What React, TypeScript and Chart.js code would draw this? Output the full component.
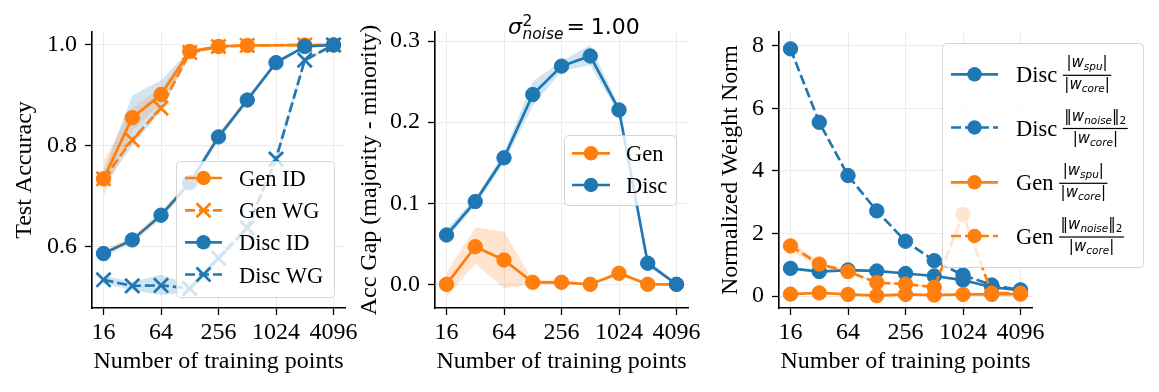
import { useEffect, useRef } from 'react';
import { Chart, registerables } from 'chart.js';

Chart.register(...registerables);

const SERIF = "'Liberation Serif', 'Times New Roman', serif";
const SANS = "'DejaVu Sans', sans-serif";
const BLUE = '#1f77b4';
const ORANGE = '#ff7f0e';
const BLUE_FILL = 'rgba(31,119,180,0.2)';
const ORANGE_FILL = 'rgba(255,127,14,0.2)';
const GRID = '#ebebeb';
const LW = 2.7;

// ---------- data ----------
const trainSizes = [16, 32, 64, 128, 256, 512, 1024, 2048, 4096];
const xTickValues = [16, 64, 256, 1024, 4096];

// Panel 1: Test accuracy
const accYTicks = [0.6, 0.8, 1.0];
const genIdAcc = [0.735, 0.856, 0.902, 0.987, 0.997, 0.999, null, 1.0, 1.0];
const genWgAcc = [0.735, 0.812, 0.875, 0.985, 0.997, 0.999, null, 1.0, 1.0];
const discIdAcc = [0.587, 0.614, 0.663, 0.727, 0.818, 0.891, 0.965, 0.997, 1.0];
const discWgAcc = [0.535, 0.523, 0.524, 0.518, 0.578, 0.638, 0.774, 0.97, 1.0];
const genIdAccLo = [0.7, 0.83, 0.885, 0.98, 0.995, 0.998, 1.0, 1.0, 1.0];
const genIdAccHi = [0.77, 0.875, 0.915, 0.99, 1.0, 1.0, 1.0, 1.0, 1.0];
const genWgAccLo = [0.72, 0.8, 0.87, 0.98, 0.995, 0.998, 1.0, 1.0, 1.0];
const genWgAccHi = [0.75, 0.9, 0.93, 0.99, 1.0, 1.0, 1.0, 1.0, 1.0];
const discIdAccLo = [0.58, 0.606, 0.655, 0.719, 0.81, 0.885, 0.96, 0.995, 1.0];
const discIdAccHi = [0.594, 0.622, 0.671, 0.735, 0.826, 0.897, 0.97, 0.999, 1.0];
const discWgAccLo = [0.527, 0.515, 0.505, 0.51, 0.57, 0.63, 0.766, 0.965, 1.0];
const discWgAccHi = [0.543, 0.531, 0.545, 0.526, 0.586, 0.646, 0.782, 0.975, 1.0];

// Panel 2: accuracy gap
const gapYTicks = [0.0, 0.1, 0.2, 0.3];
const genGap = [0.0, 0.0464, 0.03, 0.0025, 0.0025, 0.0, 0.0136, 0.0, 0.0];
const discGap = [0.0608, 0.102, 0.156, 0.234, 0.269, 0.2815, 0.215, 0.026, 0.0];
const genGapLo = [-0.015, 0.025, -0.005, 0.0, 0.0, 0.0, 0.01, 0.0, 0.0];
const genGapHi = [0.015, 0.07, 0.065, 0.005, 0.005, 0.0, 0.017, 0.0, 0.0];
const discGapLo = [0.055, 0.097, 0.15, 0.22, 0.263, 0.27, 0.21, 0.021, 0.0];
const discGapHi = [0.068, 0.106, 0.162, 0.25, 0.275, 0.295, 0.22, 0.031, 0.0];

// Panel 3: normalized weight norm
const normYTicks = [0, 2, 4, 6, 8];
const discSpu = [0.884, 0.78, 0.83, 0.8, 0.72, 0.64, 0.51, 0.28, 0.19];
const discNoise = [7.9, 5.55, 3.85, 2.72, 1.75, 1.13, 0.67, 0.35, 0.19];
const genSpu = [0.06, 0.1, 0.05, 0.01, 0.05, 0.03, 0.05, 0.05, 0.06];
const genNoise = [1.6, 1.02, 0.78, 0.43, 0.38, 0.28, 2.61, 0.09, 0.09];
const genNoiseLo = [1.42, 0.95, 0.75, 0.4, 0.35, 0.25, 2.55, 0.08, 0.08];
const genNoiseHi = [1.75, 1.1, 0.8, 0.46, 0.41, 0.31, 2.67, 0.1, 0.1];

// ---------- helpers ----------
function pts(ys: (number | null)[]) {
  return trainSizes.map((x, i) => ({ x, y: ys[i] }));
}

function lineDs(label: string, ys: (number | null)[], color: string, dashed: boolean, marker: 'o' | 'x', order: number) {
  return {
    label,
    data: pts(ys),
    borderColor: color,
    backgroundColor: color,
    borderWidth: LW,
    borderDash: dashed ? [10, 4] : [],
    pointStyle: marker === 'x' ? 'crossRot' : 'circle',
    pointRadius: marker === 'x' ? 10 : 7.2,
    pointBorderWidth: marker === 'x' ? LW : 1,
    pointBackgroundColor: color,
    pointBorderColor: color,
    fill: false,
    tension: 0,
    spanGaps: true,
    order,
  };
}

function bandDs(lo: number[], hi: number[], fillColor: string, order: number) {
  return [
    { label: '', data: pts(lo), borderColor: 'rgba(0,0,0,0)', borderWidth: 1, pointRadius: 0, fill: false, tension: 0, order },
    { label: '', data: pts(hi), borderColor: 'rgba(0,0,0,0)', borderWidth: 1, pointRadius: 0, fill: '-1', backgroundColor: fillColor, tension: 0, order },
  ];
}

function makeScales(yMin: number, yMax: number, yTicks: number[], fmt: (v: number) => string, yTitle: string, yTitlePad: number, yWidth: number) {
  return {
    x: {
      type: 'logarithmic',
      min: Math.pow(2, 3.6),
      max: Math.pow(2, 12.4),
      afterBuildTicks: (s: any) => {
        s.ticks = xTickValues.map((v) => ({ value: v }));
      },
      afterFit: (s: any) => {
        s.height = 84;
      },
      ticks: {
        callback: (v: any) => String(v),
        font: { size: 24, family: SERIF },
        color: '#000',
        padding: 3,
        maxRotation: 0,
        autoSkip: false,
      },
      grid: { color: GRID, lineWidth: 1, tickLength: 7, tickColor: '#000', tickWidth: 1.3 },
      border: { color: '#000', width: 1.6 },
      title: {
        display: true,
        text: 'Number of training points',
        font: { size: 24, family: SERIF },
        color: '#000',
        padding: { top: 0, bottom: 16 },
      },
    },
    y: {
      type: 'linear',
      min: yMin,
      max: yMax,
      afterBuildTicks: (s: any) => {
        s.ticks = yTicks.map((v) => ({ value: v }));
      },
      afterFit: (s: any) => {
        s.width = yWidth;
      },
      ticks: {
        callback: (v: any) => fmt(Number(v)),
        font: { size: 24, family: SERIF },
        color: '#000',
        padding: 8,
      },
      grid: { color: GRID, lineWidth: 1, tickLength: 7, tickColor: '#000', tickWidth: 1.3 },
      border: { color: '#000', width: 1.6 },
      title: {
        display: true,
        text: yTitle,
        font: { size: 24, family: SERIF },
        color: '#000',
        padding: { top: yTitlePad, bottom: 0 },
      },
    },
  };
}

type Run = { t: string; size: number; italic?: boolean; dy?: number };
function runFont(r: Run) {
  return `${r.italic ? 'italic ' : ''}${r.size}px ${SANS}`;
}
function runsWidth(ctx: CanvasRenderingContext2D, runs: Run[]) {
  let w = 0;
  for (const r of runs) {
    ctx.font = runFont(r);
    w += ctx.measureText(r.t).width;
  }
  return w;
}
function drawRuns(ctx: CanvasRenderingContext2D, runs: Run[], x: number, y: number) {
  for (const r of runs) {
    ctx.font = runFont(r);
    ctx.fillText(r.t, x, y + (r.dy || 0));
    x += ctx.measureText(r.t).width;
  }
}

const spuNum: Run[] = [
  { t: '|', size: 15 },
  { t: 'w', size: 15, italic: true },
  { t: 'spu', size: 10.5, italic: true, dy: 3 },
  { t: '|', size: 15 },
];
const noiseNum: Run[] = [
  { t: '‖', size: 15 },
  { t: 'w', size: 15, italic: true },
  { t: 'noise', size: 10.5, italic: true, dy: 3 },
  { t: '‖', size: 15 },
  { t: '2', size: 10.5, dy: 3 },
];
const coreDen: Run[] = [
  { t: '|', size: 15 },
  { t: 'w', size: 15, italic: true },
  { t: 'core', size: 10.5, italic: true, dy: 3 },
  { t: '|', size: 15 },
];

type LegendEntry = { text: string; color: string; dashed: boolean; marker: 'o' | 'x'; num?: Run[]; den?: Run[] };
type LegendSpec = {
  box: [number, number, number, number];
  rows: number[];
  handle: [number, number];
  textX: number;
  fontSize: number;
  entries: LegendEntry[];
};

function legendPlugin(spec: LegendSpec) {
  return {
    id: 'customLegend',
    afterDatasetsDraw(chart: any) {
      const ctx: CanvasRenderingContext2D = chart.ctx;
      ctx.save();
      const [x0, y0, x1, y1] = spec.box;
      ctx.beginPath();
      (ctx as any).roundRect(x0 + 0.5, y0 + 0.5, x1 - x0, y1 - y0, 4);
      ctx.fillStyle = 'rgba(255,255,255,0.8)';
      ctx.fill();
      ctx.strokeStyle = 'rgba(204,204,204,0.8)';
      ctx.lineWidth = 1;
      ctx.stroke();
      spec.entries.forEach((e, i) => {
        const y = spec.rows[i];
        const [hx0, hx1] = spec.handle;
        const mx = (hx0 + hx1) / 2;
        ctx.strokeStyle = e.color;
        ctx.fillStyle = e.color;
        ctx.lineWidth = LW;
        ctx.setLineDash(e.dashed ? [10, 4] : []);
        ctx.beginPath();
        ctx.moveTo(hx0, y);
        ctx.lineTo(hx1, y);
        ctx.stroke();
        ctx.setLineDash([]);
        if (e.marker === 'o') {
          ctx.beginPath();
          ctx.arc(mx, y, 7.2, 0, Math.PI * 2);
          ctx.fill();
        } else {
          const d = 7;
          ctx.beginPath();
          ctx.moveTo(mx - d, y - d);
          ctx.lineTo(mx + d, y + d);
          ctx.moveTo(mx - d, y + d);
          ctx.lineTo(mx + d, y - d);
          ctx.stroke();
        }
        ctx.fillStyle = '#000';
        ctx.font = `${spec.fontSize}px ${SERIF}`;
        ctx.textBaseline = 'alphabetic';
        ctx.textAlign = 'left';
        const label = e.num ? e.text + ' ' : e.text;
        ctx.fillText(label, spec.textX, y + 8);
        if (e.num && e.den) {
          const fx = spec.textX + ctx.measureText(label).width;
          const wn = runsWidth(ctx, e.num);
          const wd = runsWidth(ctx, e.den);
          const bw = Math.max(wn, wd) + 3;
          const barY = y + 1;
          ctx.fillRect(fx, barY - 0.6, bw, 1.2);
          drawRuns(ctx, e.num, fx + (bw - wn) / 2, barY - 8);
          drawRuns(ctx, e.den, fx + (bw - wd) / 2, barY + 14);
        }
      });
      ctx.restore();
    },
  };
}

const titlePlugin = (offsetX: number) => ({
  id: 'mathTitle',
  afterDraw(chart: any) {
    const ctx: CanvasRenderingContext2D = chart.ctx;
    ctx.save();
    ctx.fillStyle = '#000';
    ctx.textBaseline = 'alphabetic';
    ctx.textAlign = 'left';
    let x = 508 - offsetX;
    const base = 34;
    ctx.font = `italic 22px ${SANS}`;
    ctx.fillText('σ', x, base);
    x += ctx.measureText('σ').width + 0.5;
    ctx.font = `15.4px ${SANS}`;
    ctx.fillText('2', x, base - 8);
    ctx.font = `italic 15.4px ${SANS}`;
    ctx.fillText('noise', x, base + 5);
    x += ctx.measureText('noise').width + 3;
    ctx.font = `22px ${SANS}`;
    ctx.fillText('=', x, base);
    x += ctx.measureText('=').width + 6;
    ctx.fillText('1.00', x, base);
    ctx.restore();
  },
});

function baseOptions(padRight: number, scales: any) {
  return {
    responsive: false,
    animation: false,
    events: [],
    layout: { padding: { top: 32, right: padRight, left: 0, bottom: 0 } },
    plugins: { legend: { display: false }, tooltip: { enabled: false }, title: { display: false } },
    scales,
  };
}

export default function App() {
  const c1 = useRef<HTMLCanvasElement>(null);
  const c2 = useRef<HTMLCanvasElement>(null);
  const c3 = useRef<HTMLCanvasElement>(null);

  useEffect(() => {
    Chart.defaults.font.family = SERIF;
    const charts: Chart[] = [];

    // Panel 1
    charts.push(
      new Chart(c1.current as HTMLCanvasElement, {
        type: 'line',
        data: {
          datasets: [
            lineDs('Disc WG', discWgAcc, BLUE, true, 'x', 1),
            lineDs('Disc ID', discIdAcc, BLUE, false, 'o', 2),
            lineDs('Gen WG', genWgAcc, ORANGE, true, 'x', 3),
            lineDs('Gen ID', genIdAcc, ORANGE, false, 'o', 4),
            ...bandDs(genIdAccLo, genIdAccHi, ORANGE_FILL, 10),
            ...bandDs(genWgAccLo, genWgAccHi, BLUE_FILL, 11),
            ...bandDs(discIdAccLo, discIdAccHi, ORANGE_FILL, 12),
            ...bandDs(discWgAccLo, discWgAccHi, BLUE_FILL, 13),
          ] as any,
        },
        options: baseOptions(
          35,
          makeScales(0.4792, 1.0257, accYTicks, (v) => v.toFixed(1), 'Test Accuracy', 10, 92)
        ) as any,
        plugins: [
          legendPlugin({
            box: [176, 161, 334, 297],
            rows: [178, 210.3, 242.3, 274.5],
            handle: [185, 222],
            textX: 239,
            fontSize: 22.5,
            entries: [
              { text: 'Gen ID', color: ORANGE, dashed: false, marker: 'o' },
              { text: 'Gen WG', color: ORANGE, dashed: true, marker: 'x' },
              { text: 'Disc ID', color: BLUE, dashed: false, marker: 'o' },
              { text: 'Disc WG', color: BLUE, dashed: true, marker: 'x' },
            ],
          }),
        ],
      })
    );

    // Panel 2
    const off2 = 345;
    charts.push(
      new Chart(c2.current as HTMLCanvasElement, {
        type: 'line',
        data: {
          datasets: [
            lineDs('Disc', discGap, BLUE, false, 'o', 1),
            lineDs('Gen', genGap, ORANGE, false, 'o', 2),
            ...bandDs(genGapLo, genGapHi, ORANGE_FILL, 10),
            ...bandDs(discGapLo, discGapHi, BLUE_FILL, 11),
          ] as any,
        },
        options: baseOptions(
          22,
          makeScales(-0.0292, 0.3111, gapYTicks, (v) => v.toFixed(1), 'Acc Gap (majority - minority)', 10, 90)
        ) as any,
        plugins: [
          legendPlugin({
            box: [564 - off2, 135, 676 - off2, 205],
            rows: [153.3, 185],
            handle: [572 - off2, 610 - off2],
            textX: 626 - off2,
            fontSize: 22.5,
            entries: [
              { text: 'Gen', color: ORANGE, dashed: false, marker: 'o' },
              { text: 'Disc', color: BLUE, dashed: false, marker: 'o' },
            ],
          }),
          titlePlugin(off2),
        ],
      })
    );

    // Panel 3
    const off3 = 700;
    charts.push(
      new Chart(c3.current as HTMLCanvasElement, {
        type: 'line',
        data: {
          datasets: [
            lineDs('Gen noise', genNoise, ORANGE, true, 'o', 1),
            lineDs('Gen spu', genSpu, ORANGE, false, 'o', 2),
            lineDs('Disc noise', discNoise, BLUE, true, 'o', 3),
            lineDs('Disc spu', discSpu, BLUE, false, 'o', 4),
            ...bandDs(genNoiseLo, genNoiseHi, ORANGE_FILL, 10),
          ] as any,
        },
        options: baseOptions(
          127,
          makeScales(-0.3835, 8.438, normYTicks, (v) => String(v), 'Normalized Weight Norm', 16, 79)
        ) as any,
        plugins: [
          legendPlugin({
            box: [942 - off3, 43, 1143 - off3, 267],
            rows: [74.3, 127.5, 182.3, 236],
            handle: [951 - off3, 998 - off3],
            textX: 1016 - off3,
            fontSize: 22.5,
            entries: [
              { text: 'Disc', color: BLUE, dashed: false, marker: 'o', num: spuNum, den: coreDen },
              { text: 'Disc', color: BLUE, dashed: true, marker: 'o', num: noiseNum, den: coreDen },
              { text: 'Gen', color: ORANGE, dashed: false, marker: 'o', num: spuNum, den: coreDen },
              { text: 'Gen', color: ORANGE, dashed: true, marker: 'o', num: noiseNum, den: coreDen },
            ],
          }),
        ],
      })
    );

    return () => {
      charts.forEach((c) => c.destroy());
    };
  }, []);

  const canvasStyle = (left: number, width: number): any => ({
    position: 'absolute',
    left,
    top: 0,
    width,
    height: 392,
  });

  return (
    <div style={{ position: 'absolute', left: 0, top: 0, width: 1159, height: 392, background: '#fff', overflow: 'hidden' }}>
      <canvas ref={c1} width={380} height={392} style={canvasStyle(0, 380)} />
      <canvas ref={c2} width={365} height={392} style={canvasStyle(345, 365)} />
      <canvas ref={c3} width={459} height={392} style={canvasStyle(700, 459)} />
    </div>
  );
}
